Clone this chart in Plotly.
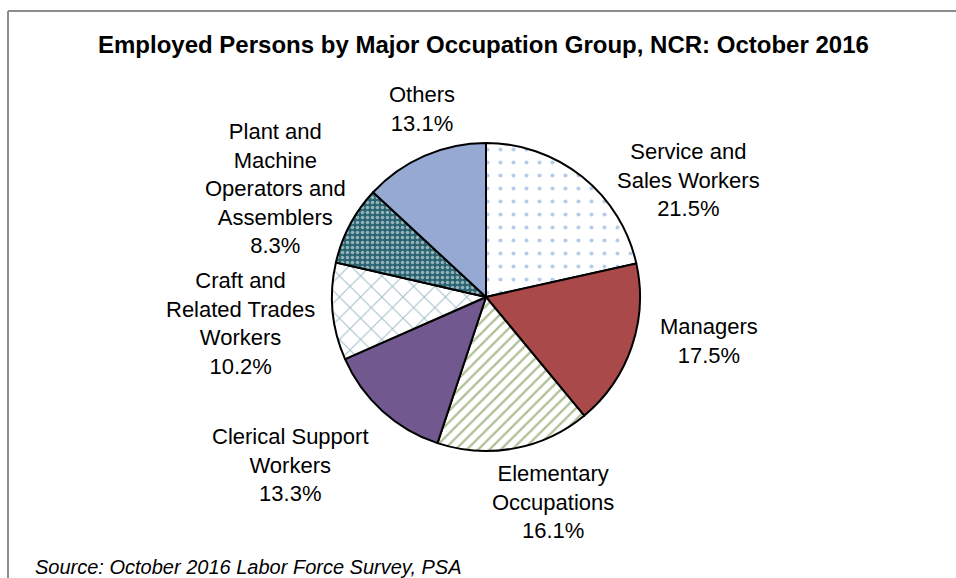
import plotly.graph_objects as go

# ---- data ----
categories = [
    "Service and Sales Workers",
    "Managers",
    "Elementary Occupations",
    "Clerical Support Workers",
    "Craft and Related Trades Workers",
    "Plant and Machine Operators and Assemblers",
    "Others",
]
label_lines = [
    "Service and<br>Sales Workers",
    "Managers",
    "Elementary<br>Occupations",
    "Clerical Support<br>Workers",
    "Craft and<br>Related Trades<br>Workers",
    "Plant and<br>Machine<br>Operators and<br>Assemblers",
    "Others",
]
shares = [21.5, 17.5, 16.1, 13.3, 10.2, 8.3, 13.1]

title_text = "Employed Persons by Major Occupation Group, NCR: October 2016"
source_text = "Source: October 2016 Labor Force Survey, PSA"

# ---- styles ----
W, H = 956, 578
base_colors = ["white", "#A9494A", "white", "#71598F", "white", "#2A6472", "#95A9D3"]
pat_shapes = [".", "", "/", "", "x", ".", ""]
pat_fg = ["#6E9BD6", "#A9494A", "#5E7F2E", "#71598F", "#4F8190", "#FFFFFF", "#95A9D3"]
pat_size = [13, 8, 8, 8, 15, 5, 8]
pat_solid = [0.08, 0.3, 0.28, 0.3, 0.14, 0.4, 0.3]

cx, cy, r = 486, 297, 154

fig = go.Figure(go.Pie(
    labels=categories,
    values=shares,
    sort=False,
    direction="clockwise",
    rotation=0,
    textinfo="none",
    hoverinfo="label+percent",
    showlegend=False,
    marker=dict(
        colors=base_colors,
        line=dict(color="black", width=2),
        pattern=dict(shape=pat_shapes, fgcolor=pat_fg, bgcolor=base_colors,
                     size=pat_size, solidity=pat_solid, fillmode="overlay"),
    ),
    domain=dict(x=[(cx - r) / W, (cx + r) / W], y=[(H - cy - r) / H, (H - cy + r) / H]),
))

# label centres in pixels (x, y of block centre)
label_pos = [(688, 180), (709, 341), (553, 502), (290, 465), (240, 323), (275, 188), (422, 109)]
for name, val, (px, py) in zip(label_lines, shares, label_pos):
    fig.add_annotation(
        x=px / W, y=1 - py / H, xref="paper", yref="paper",
        text=f"{name}<br>{val:.1f}%", showarrow=False,
        xanchor="center", yanchor="middle", align="center",
        font=dict(family="Liberation Sans, Arial", size=22, color="black"),
    )

fig.add_annotation(
    x=483 / W, y=1 - 45 / H, xref="paper", yref="paper", text=f"<b>{title_text}</b>",
    showarrow=False, xanchor="center", yanchor="middle",
    font=dict(family="Liberation Sans, Arial", size=24, color="black"),
)
fig.add_annotation(
    x=33 / W, y=1 - 567 / H, xref="paper", yref="paper", text=f"<i>{source_text}</i>",
    showarrow=False, xanchor="left", yanchor="middle",
    font=dict(family="Liberation Sans, Arial", size=20, color="black"),
)

# frame
fig.add_shape(type="line", xref="paper", yref="paper", x0=8 / W, x1=1, y0=1 - 11 / H, y1=1 - 11 / H,
              line=dict(color="#8C8C8C", width=2))
fig.add_shape(type="line", xref="paper", yref="paper", x0=8 / W, x1=8 / W, y0=0, y1=1 - 11 / H,
              line=dict(color="#8C8C8C", width=2))

fig.update_layout(
    width=W, height=H, margin=dict(l=0, r=0, t=0, b=0),
    paper_bgcolor="white", plot_bgcolor="white",
)
fig.write_html("out.html", config={"displayModeBar": False},
               post_script="document.body.style.margin='0';document.body.style.overflow='hidden';")
